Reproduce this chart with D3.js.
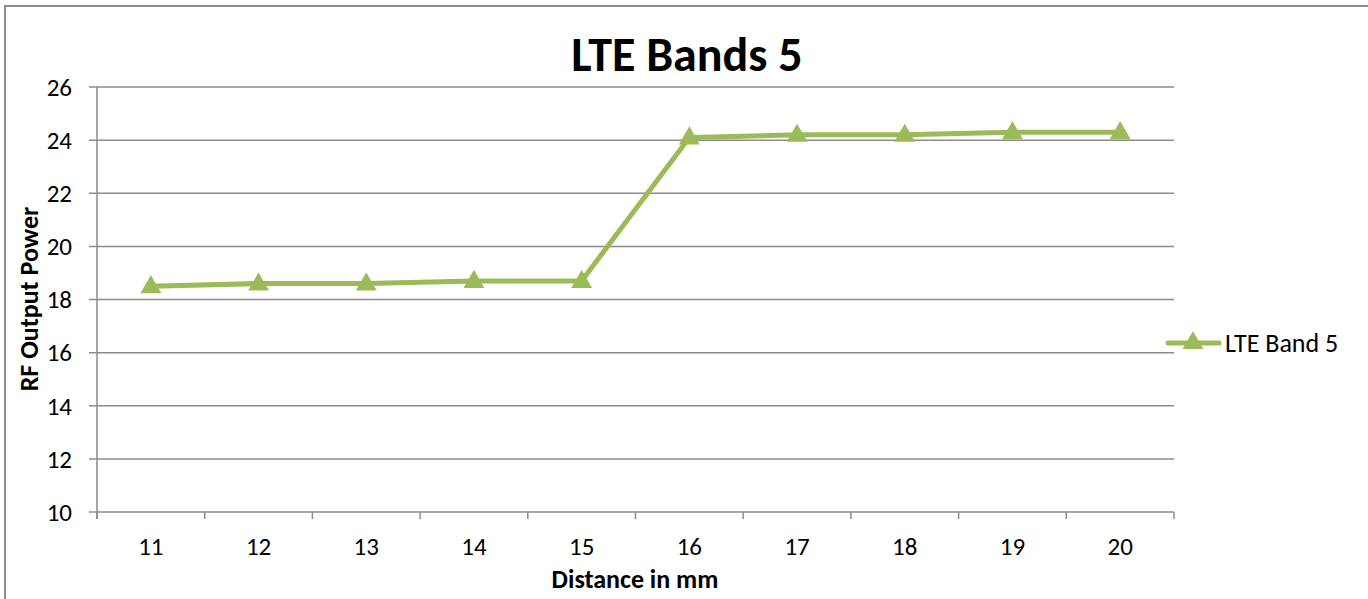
<!DOCTYPE html>
<html><head><meta charset="utf-8">
<script src="https://cdn.jsdelivr.net/npm/d3@7"></script>
<style>body{margin:0;background:#fff}svg{display:block}text{font-family:Carlito,Calibri,"Open Sans","Liberation Sans",sans-serif}</style>
</head><body><svg id="c" width="1368" height="599"></svg>
<script>
const categories = [11,12,13,14,15,16,17,18,19,20];
const seriesName = "LTE Band 5";
const values = [18.5,18.6,18.6,18.7,18.7,24.1,24.2,24.2,24.3,24.3];
const yTicks = [10,12,14,16,18,20,22,24,26];
const title = "LTE Bands 5";
const xTitle = "Distance in mm";
const yTitle = "RF Output Power";

const svg = d3.select("#c");
const green = "#9BBB59", grid = "#8c8c8c";
svg.append("rect").attr("x",5).attr("y",6).attr("width",1400).attr("height",700)
  .attr("fill","#fff").attr("stroke","#8c8c8c").attr("stroke-width",2);

const L=97, R=1174, T=87, B=512;
const x = d3.scaleBand().domain(categories).range([L,R]);
const y = d3.scaleLinear().domain([10,26]).range([B,T]);

svg.append("g").selectAll("line").data(yTicks).join("line")
  .attr("x1",L-8).attr("x2",R).attr("y1",d=>y(d)).attr("y2",d=>y(d))
  .attr("stroke",grid).attr("stroke-width",1.5);
svg.append("line").attr("x1",L).attr("x2",L).attr("y1",T).attr("y2",B+7).attr("stroke",grid).attr("stroke-width",1.5);
const xt = d3.range(categories.length+1).map(i=>L+i*x.step());
svg.append("g").selectAll("line").data(xt).join("line")
  .attr("x1",d=>d).attr("x2",d=>d).attr("y1",B).attr("y2",B+7).attr("stroke",grid).attr("stroke-width",1.5);
svg.append("g").selectAll("text").data(yTicks).join("text")
  .attr("x",72).attr("y",d=>y(d)).attr("dy","0.35em").attr("text-anchor","end")
  .attr("font-size",25).attr("fill","#000").text(d=>d);
svg.append("g").selectAll("text").data(categories).join("text")
  .attr("x",d=>x(d)+x.bandwidth()/2).attr("y",555).attr("text-anchor","middle")
  .attr("font-size",25).attr("fill","#000").text(d=>d);

svg.append("text").attr("x",687).attr("y",71).attr("text-anchor","middle")
  .attr("font-size",48).attr("font-weight","bold").text(title);
svg.append("text").attr("x",635).attr("y",588).attr("text-anchor","middle")
  .attr("font-size",26).attr("font-weight","bold").text(xTitle);
svg.append("text").attr("transform","translate(38,299) rotate(-90)").attr("text-anchor","middle")
  .attr("font-size",26).attr("font-weight","bold").text(yTitle);

const cx = d=>x(d)+x.bandwidth()/2;
svg.append("path").datum(categories.map((c,i)=>[cx(c),y(values[i])]))
  .attr("d",d3.line()).attr("fill","none").attr("stroke",green).attr("stroke-width",5).attr("stroke-linejoin","round");
const tri = d3.symbol().type(d3.symbolTriangle).size(190);
svg.append("g").selectAll("path").data(categories).join("path")
  .attr("transform",(c,i)=>`translate(${cx(c)},${y(values[i])+1})`).attr("d",tri).attr("fill",green);

const ly=343;
svg.append("line").attr("x1",1168).attr("x2",1219).attr("y1",ly).attr("y2",ly).attr("stroke",green).attr("stroke-width",5).attr("stroke-linecap","round");
svg.append("path").attr("transform",`translate(1193,${ly})`).attr("d",tri).attr("fill",green);
svg.append("text").attr("x",1225).attr("y",ly).attr("dy","0.35em").attr("font-size",26).text(seriesName);
</script></body></html>
